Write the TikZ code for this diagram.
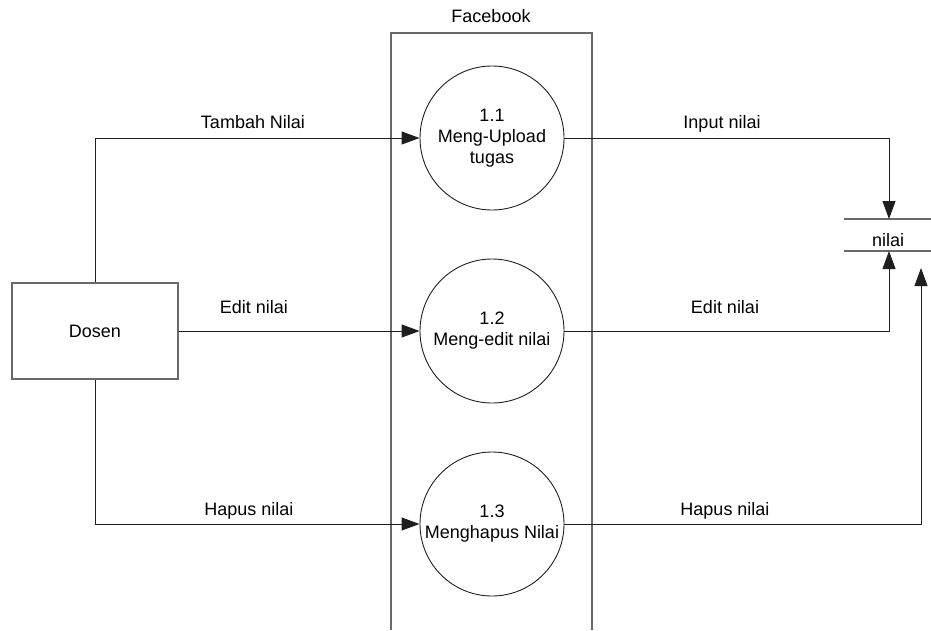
\documentclass[tikz,border=0pt]{standalone}
\usepackage{fontspec}
\setmainfont{Liberation Sans}
\usepackage{tikz}
\usetikzlibrary{arrows.meta,positioning}
\definecolor{dfdline}{RGB}{30,30,30}
\definecolor{dfdgray}{RGB}{105,105,105}

\begin{document}
\begin{tikzpicture}[x=1pt,y=-1pt,>={Triangle[length=18pt,width=13pt]},
  font=\fontsize{18}{21}\selectfont,
  proc/.style={circle,draw=dfdline,line width=0.9pt,minimum size=144pt,inner sep=0pt,align=center},
  ent/.style={rectangle,draw=dfdgray,line width=1.2pt,minimum width=166pt,minimum height=96pt},
  flow/.style={->,draw=dfdline,line width=0.9pt},
  lbl/.style={anchor=base,inner sep=0pt}]
\useasboundingbox (0,0) rectangle (931,630);
% boundary of the system
\draw[dfdgray,line width=1.2pt] (391,630) -- (391,33) -- (592,33) -- (592,630);
\node[lbl] (fb) at (491,22) {Facebook};
% external entity and processes
\node[ent] (dosen) at (95,331) {Dosen};
\node[proc] (p1) at (492,138) {1.1\\Meng-Upload\\tugas};
\node[proc] (p2) at (492,331) {1.2\\Meng-edit nilai};
\node[proc] (p3) at (492,524) {1.3\\Menghapus Nilai};
% data store
\draw[dfdgray,line width=1.2pt] (844,219) -- (931,219);
\draw[dfdgray,line width=1.2pt] (844,251) -- (931,251);
\node[lbl] (nilai) at (888,246) {nilai};
\coordinate (storetop) at (889,219);
\coordinate (storebot) at (889,251);
\coordinate (hapusend) at (921,268);
% flows
\draw[flow] (dosen.north) |- (p1.west);
\draw[flow] (dosen.east) -- (p2.west);
\draw[flow] (dosen.south) |- (p3.west);
\draw[flow] (p1.east) -| (storetop);
\draw[flow] (p2.east) -| (storebot);
\draw[flow] (p3.east) -| (hapusend);
\node[lbl] (tambah) at (253,128) {Tambah Nilai};
\node[lbl] (editin) at (254,313) {Edit nilai};
\node[lbl] (hapusin) at (249,515) {Hapus nilai};
\node[lbl] (input) at (722,128) {Input nilai};
\node[lbl] (editout) at (725,313) {Edit nilai};
\node[lbl] (hapusout) at (725,515) {Hapus nilai};
\end{tikzpicture}
\end{document}
